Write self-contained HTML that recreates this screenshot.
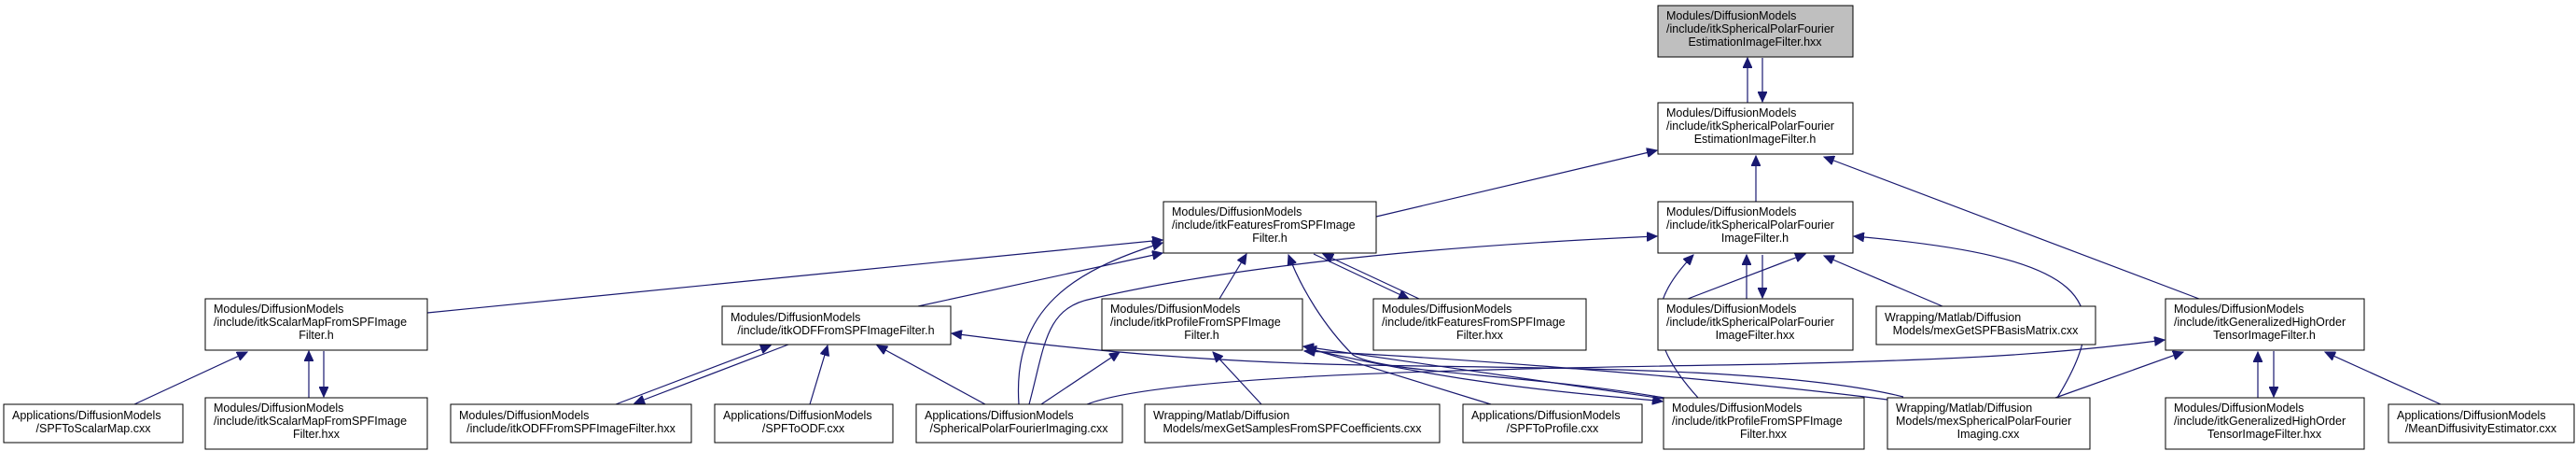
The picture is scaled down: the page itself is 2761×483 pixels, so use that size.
<!DOCTYPE html>
<html><head><meta charset="utf-8"><style>
html,body{margin:0;padding:0;background:#fff}
svg{display:block}
text{font-family:"Liberation Sans",sans-serif;font-size:12.5px;fill:#000}
.b{fill:#fff;stroke:#000;stroke-width:1}
.e{fill:none;stroke:#191970;stroke-width:1.2}
</style></head><body>
<svg width="2761" height="483" viewBox="0 0 2761 483" xmlns="http://www.w3.org/2000/svg">
<defs><marker id="a" markerUnits="userSpaceOnUse" markerWidth="12" markerHeight="10" refX="11" refY="5" orient="auto"><path d="M0,0 L11,5 L0,10 z" fill="#191970" stroke="#191970"/></marker></defs>
<g class="e" marker-end="url(#a)">
<path d="M1873,110 L1873,62"/>
<path d="M1889,62 L1889,109"/>
<path d="M1475,232 L1776,161"/>
<path d="M1882,216 L1882,167"/>
<path d="M2357,320 L1955,168"/>
<path d="M458,335 L1246,257"/>
<path d="M984,328 L1246,271"/>
<path d="M1092,433 C1085,330 1150,290 1246,260"/>
<path d="M1307,320 L1336,272"/>
<path d="M1521,320 L1418,272"/>
<path d="M1408,272 L1510,320"/>
<path d="M1795,428 C1640,400 1480,400 1450,380 C1420,350 1395,310 1381,273"/>
<path d="M1809,320 L1935,272"/>
<path d="M1103,433 C1120,370 1120,330 1170,320 C1300,290 1500,265 1776,253"/>
<path d="M1820,426 C1760,360 1770,320 1815,273"/>
<path d="M1872,320 L1872,273"/>
<path d="M1889,273 L1889,319"/>
<path d="M2082,328 L1955,274"/>
<path d="M2205,426 C2270,320 2240,275 1987,253"/>
<path d="M331,426 L331,376"/>
<path d="M347,376 L347,425"/>
<path d="M144,433 L265,377"/>
<path d="M660,433 L826,370"/>
<path d="M845,369 L680,432"/>
<path d="M868,433 L887,370"/>
<path d="M1056,433 L940,370"/>
<path d="M2040,425 C1900,390 1600,395 1420,390 C1250,385 1120,370 1020,357"/>
<path d="M1165,433 C1250,400 1600,395 1900,390 C2100,385 2200,380 2320,364"/>
<path d="M1116,433 L1200,377"/>
<path d="M1352,433 L1300,377"/>
<path d="M1598,433 L1400,372"/>
<path d="M1783,427 L1397,371"/>
<path d="M1400,373 C1600,420 1750,425 1782,430"/>
<path d="M2023,428 C1800,400 1500,380 1398,376"/>
<path d="M2203,426 L2340,377"/>
<path d="M2420,426 L2420,377"/>
<path d="M2437,376 L2437,425"/>
<path d="M2616,433 L2492,377"/>
</g>
<g>
<rect class="b" x="1777" y="6" width="209" height="55" style="fill:#bfbfbf"/>
<text x="1786" y="21">Modules/DiffusionModels</text><text x="1786" y="35">/include/itkSphericalPolarFourier</text><text x="1881" y="49" text-anchor="middle">EstimationImageFilter.hxx</text>
<rect class="b" x="1777" y="110" width="209" height="55"/>
<text x="1786" y="125">Modules/DiffusionModels</text><text x="1786" y="139">/include/itkSphericalPolarFourier</text><text x="1881" y="153" text-anchor="middle">EstimationImageFilter.h</text>
<rect class="b" x="1247" y="216" width="228" height="55"/>
<text x="1256" y="231">Modules/DiffusionModels</text><text x="1256" y="245">/include/itkFeaturesFromSPFImage</text><text x="1361" y="259" text-anchor="middle">Filter.h</text>
<rect class="b" x="1777" y="216" width="209" height="55"/>
<text x="1786" y="231">Modules/DiffusionModels</text><text x="1786" y="245">/include/itkSphericalPolarFourier</text><text x="1881" y="259" text-anchor="middle">ImageFilter.h</text>
<rect class="b" x="220" y="320" width="238" height="55"/>
<text x="229" y="335">Modules/DiffusionModels</text><text x="229" y="349">/include/itkScalarMapFromSPFImage</text><text x="339" y="363" text-anchor="middle">Filter.h</text>
<rect class="b" x="774" y="328" width="245" height="41"/>
<text x="783" y="344">Modules/DiffusionModels</text><text x="896" y="358" text-anchor="middle">/include/itkODFFromSPFImageFilter.h</text>
<rect class="b" x="1181" y="320" width="215" height="55"/>
<text x="1190" y="335">Modules/DiffusionModels</text><text x="1190" y="349">/include/itkProfileFromSPFImage</text><text x="1288" y="363" text-anchor="middle">Filter.h</text>
<rect class="b" x="1472" y="320" width="228" height="55"/>
<text x="1481" y="335">Modules/DiffusionModels</text><text x="1481" y="349">/include/itkFeaturesFromSPFImage</text><text x="1586" y="363" text-anchor="middle">Filter.hxx</text>
<rect class="b" x="1777" y="320" width="209" height="55"/>
<text x="1786" y="335">Modules/DiffusionModels</text><text x="1786" y="349">/include/itkSphericalPolarFourier</text><text x="1881" y="363" text-anchor="middle">ImageFilter.hxx</text>
<rect class="b" x="2011" y="328" width="235" height="41"/>
<text x="2020" y="344">Wrapping/Matlab/Diffusion</text><text x="2128" y="358" text-anchor="middle">Models/mexGetSPFBasisMatrix.cxx</text>
<rect class="b" x="2321" y="320" width="213" height="55"/>
<text x="2330" y="335">Modules/DiffusionModels</text><text x="2330" y="349">/include/itkGeneralizedHighOrder</text><text x="2427" y="363" text-anchor="middle">TensorImageFilter.h</text>
<rect class="b" x="4" y="433" width="192" height="41"/>
<text x="13" y="449">Applications/DiffusionModels</text><text x="100" y="463" text-anchor="middle">/SPFToScalarMap.cxx</text>
<rect class="b" x="220" y="426" width="238" height="55"/>
<text x="229" y="441">Modules/DiffusionModels</text><text x="229" y="455">/include/itkScalarMapFromSPFImage</text><text x="339" y="469" text-anchor="middle">Filter.hxx</text>
<rect class="b" x="483" y="433" width="258" height="41"/>
<text x="492" y="449">Modules/DiffusionModels</text><text x="612" y="463" text-anchor="middle">/include/itkODFFromSPFImageFilter.hxx</text>
<rect class="b" x="766" y="433" width="191" height="41"/>
<text x="775" y="449">Applications/DiffusionModels</text><text x="861" y="463" text-anchor="middle">/SPFToODF.cxx</text>
<rect class="b" x="982" y="433" width="221" height="41"/>
<text x="991" y="449">Applications/DiffusionModels</text><text x="1092" y="463" text-anchor="middle">/SphericalPolarFourierImaging.cxx</text>
<rect class="b" x="1227" y="433" width="316" height="41"/>
<text x="1236" y="449">Wrapping/Matlab/Diffusion</text><text x="1385" y="463" text-anchor="middle">Models/mexGetSamplesFromSPFCoefficients.cxx</text>
<rect class="b" x="1568" y="433" width="192" height="41"/>
<text x="1577" y="449">Applications/DiffusionModels</text><text x="1664" y="463" text-anchor="middle">/SPFToProfile.cxx</text>
<rect class="b" x="1783" y="426" width="215" height="55"/>
<text x="1792" y="441">Modules/DiffusionModels</text><text x="1792" y="455">/include/itkProfileFromSPFImage</text><text x="1890" y="469" text-anchor="middle">Filter.hxx</text>
<rect class="b" x="2023" y="426" width="217" height="55"/>
<text x="2032" y="441">Wrapping/Matlab/Diffusion</text><text x="2032" y="455">Models/mexSphericalPolarFourier</text><text x="2131" y="469" text-anchor="middle">Imaging.cxx</text>
<rect class="b" x="2321" y="426" width="213" height="55"/>
<text x="2330" y="441">Modules/DiffusionModels</text><text x="2330" y="455">/include/itkGeneralizedHighOrder</text><text x="2427" y="469" text-anchor="middle">TensorImageFilter.hxx</text>
<rect class="b" x="2560" y="433" width="199" height="41"/>
<text x="2569" y="449">Applications/DiffusionModels</text><text x="2659" y="463" text-anchor="middle">/MeanDiffusivityEstimator.cxx</text>
</g>
</svg>
</body></html>
